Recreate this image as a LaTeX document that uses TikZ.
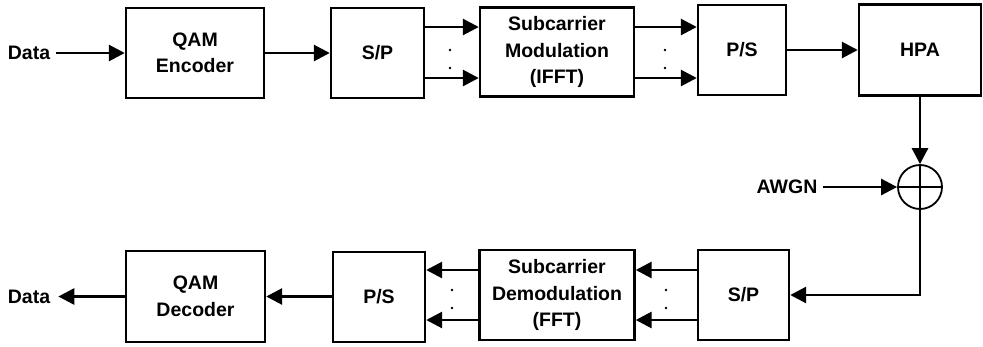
\documentclass[tikz,border=0pt]{standalone}
\usepackage{fontspec}
\setmainfont{Liberation Sans}
\usetikzlibrary{arrows.meta,calc}
\begin{document}
\begin{tikzpicture}[x=1pt,y=-1pt,
  blk/.style={draw,line width=2.4pt,align=center,font=\bfseries\fontsize{19.5}{26.5}\selectfont,inner sep=0pt},
  lbl/.style={font=\bfseries\fontsize{19.5}{26}\selectfont,inner sep=0pt},
  conn/.style={line width=2.8pt,-{Triangle[length=16pt,width=16pt]}},
  dotmark/.style={circle,fill,inner sep=0pt,minimum size=2.6pt}]
\useasboundingbox (0,0) rectangle (983,346);
% top row
\node[blk,minimum width=138pt,minimum height=90pt] (enc) at (195,53) {QAM\\Encoder};
\node[blk,minimum width=93pt,minimum height=90pt] (sp1) at (377.5,53) {S/P};
\node[blk,minimum width=154pt,minimum height=89pt] (mod) at (557,52) {Subcarrier\\Modulation\\(IFFT)};
\node[blk,minimum width=88pt,minimum height=90pt] (ps1) at (742,50) {P/S};
\node[blk,minimum width=122pt,minimum height=91pt] (hpa) at (920,50) {HPA};
\node[draw,circle,line width=1.8pt,minimum size=44pt,inner sep=0pt] (sum) at (920,187) {};
\draw[line width=1.8pt] (sum.north) -- (sum.south) (sum.west) -- (sum.east);
% bottom row
\node[blk,minimum width=91pt,minimum height=90pt] (sp2) at (743.5,295) {S/P};
\node[blk,minimum width=155pt,minimum height=90pt] (demod) at (557,295) {Subcarrier\\Demodulation\\(FFT)};
\node[blk,minimum width=92pt,minimum height=90pt] (ps2) at (379,297) {P/S};
\node[blk,minimum width=139pt,minimum height=91pt] (dec) at (195.5,296.5) {QAM\\Decoder};
% labels
\node[lbl] (din) at (29,53) {Data};
\node[lbl] (dout) at (29,297) {Data};
\node[lbl] (awgn) at (787,187) {AWGN};
% dots
\node[dotmark] (da1) at (450,50) {};
\node[dotmark] (da2) at (450,68) {};
\node[dotmark] (db1) at (665,50) {};
\node[dotmark] (db2) at (665,68) {};
\node[dotmark] (dc1) at (666,290) {};
\node[dotmark] (dc2) at (666,308) {};
\node[dotmark] (dd1) at (452,290) {};
\node[dotmark] (dd2) at (452,308) {};
% connectors top
\draw[conn] ([xshift=6pt]din.east |- enc.west) -- (enc.west);
\draw[conn] (enc.east) -- (enc.east -| sp1.west);
\draw[conn] ([yshift=26pt]sp1.east) -- ([yshift=26pt]sp1.east -| mod.west);
\draw[conn] ([yshift=-25pt]sp1.east) -- ([yshift=-25pt]sp1.east -| mod.west);
\draw[conn] ([yshift=25pt]mod.east) -- ([yshift=25pt]mod.east -| ps1.west);
\draw[conn] ([yshift=-26pt]mod.east) -- ([yshift=-26pt]mod.east -| ps1.west);
\draw[conn] (ps1.east) -- (ps1.east -| hpa.west);
\draw[conn] (hpa.south) -- (sum.north);
\draw[conn] ([xshift=5pt]awgn.east |- sum.west) -- (sum.west);
\draw[conn] (sum.south) -- (sum.south |- sp2.east) -- (sp2.east);
% connectors bottom
\draw[conn] ([yshift=25pt]sp2.west) -- ([yshift=25pt]sp2.west -| demod.east);
\draw[conn] ([yshift=-25pt]sp2.west) -- ([yshift=-25pt]sp2.west -| demod.east);
\draw[conn] ([yshift=25pt]demod.west) -- ([yshift=25pt]demod.west -| ps2.east);
\draw[conn] ([yshift=-25pt]demod.west) -- ([yshift=-25pt]demod.west -| ps2.east);
\draw[conn] (ps2.west |- dec.east) -- (dec.east);
\draw[conn] (dec.west) -- ([xshift=8pt]dout.east |- dec.west);
\end{tikzpicture}
\end{document}
